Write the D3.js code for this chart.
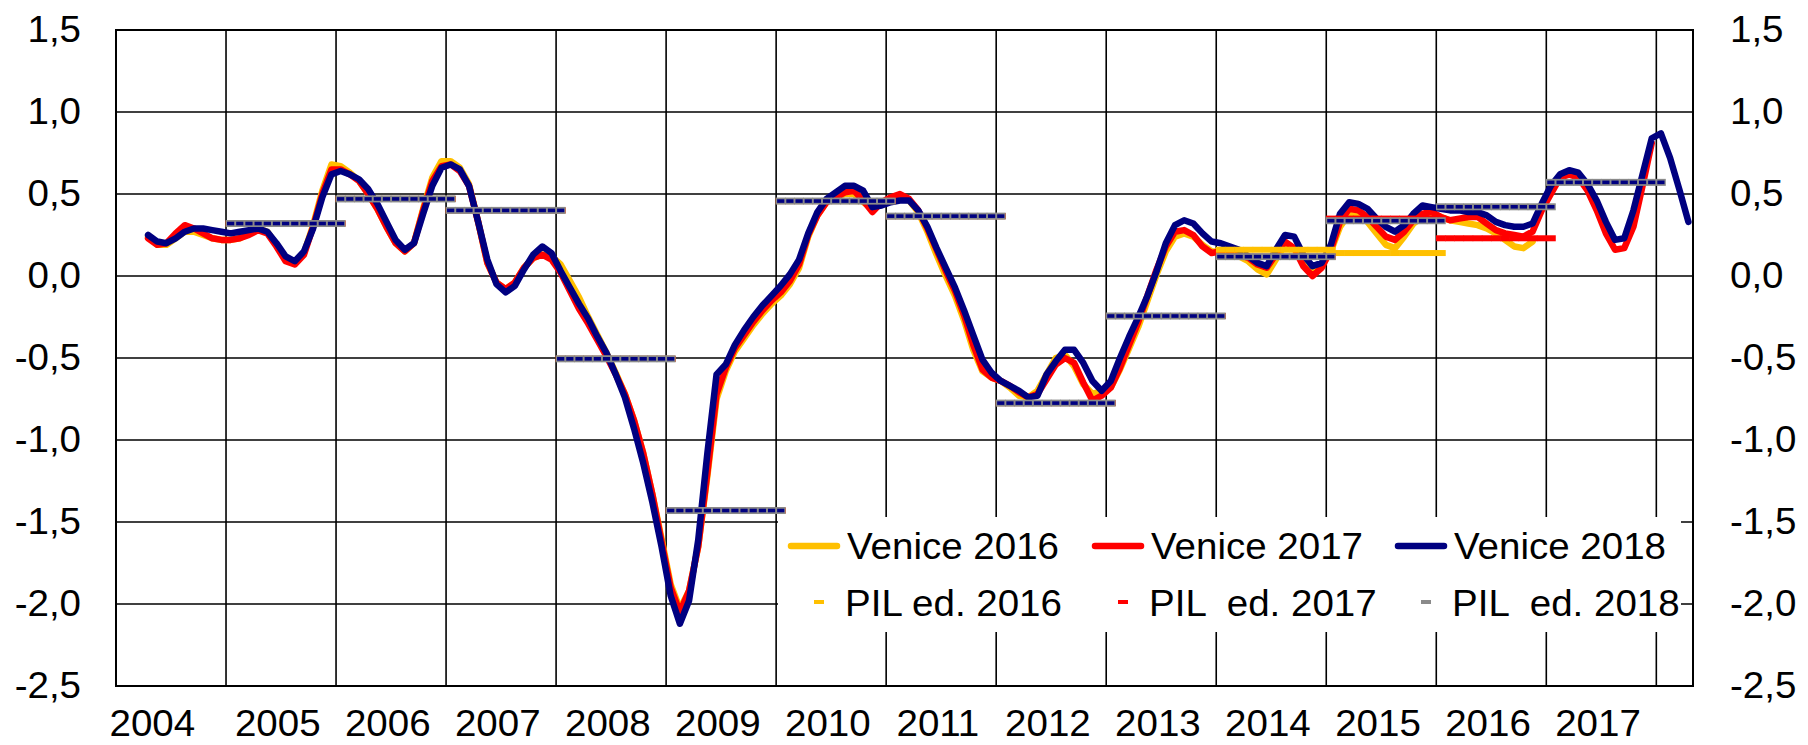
<!DOCTYPE html>
<html>
<head>
<meta charset="utf-8">
<style>
    body { margin:0; background:#fff; }
    svg text {
        font-family: "Liberation Sans", Arial, sans-serif;
        font-size: 36px;
        fill: #000;
        white-space: pre;
    }
    .grid line { stroke:#000; stroke-width:1.6px; }
    .frame { fill:none; stroke:#000; stroke-width:2px; }
    path.venice { fill:none; stroke-width:6.5px; stroke-linejoin:round; stroke-linecap:round; }
</style>
<script src="https://d3js.org/d3.v7.min.js"></script>
</head>
<body>
<script>
// monthly series, first value = April 2004
const firstYear = 2004, firstMonth = 3;

const venice2018 = [
    0.25, 0.21, 0.20, 0.23, 0.27, 0.29, 0.29, 0.28, 0.27,
    0.26, 0.27, 0.28, 0.29, 0.27, 0.20, 0.12, 0.09, 0.15, 0.29, 0.48, 0.62,
    0.64, 0.62, 0.59, 0.53, 0.44, 0.33, 0.22, 0.16, 0.20, 0.38, 0.55, 0.66,
    0.68, 0.65, 0.55, 0.33, 0.10, -0.05, -0.10, -0.06, 0.04, 0.13, 0.18, 0.14,
    0.03, -0.07, -0.17, -0.26, -0.37, -0.47, -0.60, -0.74, -0.93, -1.14, -1.38, -1.65,
    -1.95, -2.12, -1.98, -1.61, -1.08, -0.60, -0.54, -0.42, -0.33, -0.25, -0.18, -0.12,
    -0.06, 0.01, 0.10, 0.26, 0.39, 0.47, 0.51, 0.55, 0.55, 0.52, 0.42, 0.43,
    0.45, 0.46, 0.46, 0.40, 0.30, 0.17, 0.05, -0.07, -0.21, -0.36, -0.51, -0.59,
    -0.64, -0.67, -0.70, -0.74, -0.73, -0.60, -0.52, -0.45, -0.45, -0.53, -0.64, -0.70,
    -0.64, -0.50, -0.37, -0.25, -0.12, 0.03, 0.20, 0.31, 0.34, 0.32, 0.26, 0.21,
    0.20, 0.18, 0.16, 0.12, 0.08, 0.06, 0.16, 0.25, 0.24, 0.13, 0.06, 0.08,
    0.19, 0.38, 0.45, 0.44, 0.41, 0.35, 0.30, 0.27, 0.31, 0.38, 0.43, 0.42,
    0.41, 0.40, 0.40, 0.39, 0.39, 0.37, 0.33, 0.31, 0.30, 0.30, 0.32, 0.44,
    0.55, 0.62, 0.645, 0.63, 0.56, 0.46, 0.33, 0.22, 0.23, 0.40, 0.62, 0.84,
    0.87, 0.72, 0.53, 0.33
];

const venice2017 = [
    0.23, 0.19, 0.20, 0.26, 0.31, 0.29, 0.26, 0.23, 0.22,
    0.22, 0.23, 0.25, 0.28, 0.26, 0.18, 0.09, 0.07, 0.13, 0.30, 0.50, 0.65,
    0.65, 0.62, 0.58, 0.50, 0.41, 0.30, 0.20, 0.15, 0.20, 0.40, 0.58, 0.67,
    0.68, 0.64, 0.55, 0.33, 0.08, -0.04, -0.08, -0.04, 0.05, 0.11, 0.13, 0.10,
    0.02, -0.09, -0.20, -0.29, -0.39, -0.49, -0.60, -0.72, -0.88, -1.08, -1.33, -1.62,
    -1.90, -2.05, -1.92, -1.65, -1.20, -0.72, -0.56, -0.44, -0.36, -0.28, -0.21, -0.15,
    -0.10, -0.03, 0.07, 0.25, 0.37, 0.45, 0.48, 0.51, 0.52, 0.46, 0.39, 0.45,
    0.48, 0.50, 0.47, 0.40, 0.29, 0.16, 0.03, -0.09, -0.24, -0.42, -0.57, -0.62,
    -0.64, -0.67, -0.71, -0.74, -0.72, -0.63, -0.54, -0.50, -0.53, -0.65, -0.76, -0.73,
    -0.68, -0.56, -0.42, -0.28, -0.12, 0.04, 0.18, 0.27, 0.28, 0.25, 0.18, 0.14,
    0.15, 0.14, 0.13, 0.11, 0.07, 0.05, 0.13, 0.21, 0.17, 0.06, 0.00, 0.05,
    0.16, 0.33, 0.41, 0.40, 0.36, 0.30, 0.24, 0.22, 0.27, 0.34, 0.38, 0.39,
    0.36, 0.34, 0.35, 0.36, 0.36, 0.32, 0.28, 0.26, 0.25, 0.24, 0.27, 0.40,
    0.50, 0.60, 0.62, 0.60, 0.52, 0.40, 0.26, 0.16, 0.17, 0.30, 0.55, 0.81
];

const venice2016 = [
    0.24, 0.19, 0.19, 0.23, 0.27, 0.27, 0.25, 0.23, 0.22,
    0.22, 0.23, 0.26, 0.29, 0.27, 0.19, 0.10, 0.08, 0.14, 0.31, 0.52, 0.68,
    0.67, 0.63, 0.58, 0.50, 0.41, 0.30, 0.20, 0.15, 0.20, 0.41, 0.60, 0.70,
    0.70, 0.66, 0.56, 0.33, 0.08, -0.04, -0.08, -0.04, 0.05, 0.11, 0.13, 0.12,
    0.07, -0.03, -0.13, -0.25, -0.36, -0.47, -0.59, -0.72, -0.88, -1.08, -1.33, -1.60,
    -1.88, -2.03, -1.92, -1.65, -1.22, -0.75, -0.58, -0.46, -0.38, -0.30, -0.23, -0.17,
    -0.12, -0.05, 0.05, 0.24, 0.37, 0.45, 0.48, 0.50, 0.50, 0.45, 0.41, 0.44,
    0.46, 0.47, 0.46, 0.39, 0.27, 0.13, 0.00, -0.12, -0.27, -0.45, -0.58, -0.62,
    -0.64, -0.68, -0.73, -0.74, -0.70, -0.60, -0.50, -0.48, -0.55, -0.66, -0.72, -0.70,
    -0.68, -0.57, -0.44, -0.31, -0.15, 0.01, 0.15, 0.24, 0.26, 0.24, 0.19, 0.15,
    0.15, 0.14, 0.12, 0.09, 0.04, 0.01, 0.10, 0.19, 0.17, 0.08, 0.03, 0.06,
    0.15, 0.30, 0.38, 0.37, 0.33, 0.26, 0.19, 0.17, 0.24, 0.32, 0.36, 0.36,
    0.36, 0.34, 0.33, 0.32, 0.31, 0.29, 0.26, 0.22, 0.18, 0.17, 0.21
];

// annual GDP growth (PIL), one value per year
const pilYears = [2005, 2006, 2007, 2008, 2009, 2010, 2011, 2012, 2013, 2014, 2015, 2016, 2017];
const pil2018 = [0.32, 0.47, 0.40, -0.505, -1.43, 0.457, 0.365, -0.775, -0.244, 0.118, 0.337, 0.422, 0.571];
const pil2017 = [0.32, 0.47, 0.40, -0.505, -1.43, 0.457, 0.365, -0.775, -0.244, 0.118, 0.35, 0.23];
const pil2016 = [0.32, 0.47, 0.40, -0.505, -1.43, 0.457, 0.365, -0.775, -0.244, 0.16, 0.14];

const yTicks = [1.5, 1.0, 0.5, 0.0, -0.5, -1.0, -1.5, -2.0, -2.5];
const yearLabels = [2004, 2005, 2006, 2007, 2008, 2009, 2010, 2011, 2012, 2013, 2014, 2015, 2016, 2017];
const yearGrid = [2005, 2006, 2007, 2008, 2009, 2010, 2011, 2012, 2013, 2014, 2015, 2016, 2017, 2018];

const ORANGE = "#FFC000", RED = "#FF0000", NAVY = "#000080", GRAY = "#8a8a8a";

function draw() {
    const svg = d3.select("body").append("svg")
        .attr("width", 1808)
        .attr("height", 745);

    const x = d3.scaleLinear().domain([2004, 2018 + 4 / 12]).range([116, 1693]);
    const y = d3.scaleLinear().domain([-2.5, 1.5]).range([686, 30]);
    const monthT = i => firstYear + (firstMonth + i + 0.5) / 12;
    const monthW = x(2004 + 1 / 12) - x(2004);

    function label(g, px, py, txt, anchor) {
        g.append("text")
            .attr("transform", "translate(" + px + "," + py + ") scale(1.07,1)")
            .attr("text-anchor", anchor)
            .text(txt);
    }

    // grid
    const grid = svg.append("g").attr("class", "grid");
    grid.selectAll("line.h")
        .data(yTicks)
        .join("line")
        .attr("class", "h")
        .attr("x1", x.range()[0]).attr("x2", x.range()[1])
        .attr("y1", d => y(d)).attr("y2", d => y(d));
    grid.selectAll("line.v")
        .data(yearGrid)
        .join("line")
        .attr("class", "v")
        .attr("x1", d => x(d)).attr("x2", d => x(d))
        .attr("y1", y.range()[1]).attr("y2", y.range()[0]);

    svg.append("rect")
        .attr("class", "frame")
        .attr("x", x.range()[0]).attr("y", y.range()[1])
        .attr("width", x.range()[1] - x.range()[0])
        .attr("height", y.range()[0] - y.range()[1]);

    // tick labels
    const fmt = v => v.toFixed(1).replace(".", ",");
    const labels = svg.append("g");
    yTicks.forEach(v => {
        label(labels, 81, y(v) + 12, fmt(v), "end");
        label(labels, 1730, y(v) + 12, fmt(v), "start");
    });
    yearLabels.forEach((yr, i) => {
        const t = i === 0 ? yr + 0.33 : yr + 0.47;
        label(labels, x(t), 736, String(yr), "middle");
    });

    // Venice lines
    const line = d3.line()
        .x((d, i) => x(monthT(i)))
        .y(d => y(d));
    [[venice2016, ORANGE], [venice2017, RED], [venice2018, NAVY]].forEach(([data, col]) => {
        svg.append("path")
            .attr("class", "venice")
            .attr("d", line(data))
            .attr("stroke", col);
    });

    // PIL: dash markers on every month of the year (plus January of the next)
    function pilMarks(values, col, h) {
        const pts = [];
        values.forEach((v, i) => {
            for (let m = 0; m <= 12; m++) pts.push({ t: pilYears[i] + (m + 0.5) / 12, v: v });
        });
        svg.append("g").selectAll("rect")
            .data(pts)
            .join("rect")
            .attr("x", d => x(d.t) - monthW / 2 - 0.3)
            .attr("y", d => y(d.v) - h / 2)
            .attr("width", monthW + 0.6)
            .attr("height", h)
            .attr("fill", col);
        return pts;
    }
    pilMarks(pil2016, ORANGE, 6);
    pilMarks(pil2017, RED, 6);
    const pts18 = pilMarks(pil2018, GRAY, 7);
    svg.append("g").selectAll("rect")
        .data(pts18)
        .join("rect")
        .attr("x", d => x(d.t) - 3.6)
        .attr("y", d => y(d.v) - 1.8)
        .attr("width", 7.2)
        .attr("height", 3.6)
        .attr("fill", NAVY);

    // legend
    const leg = svg.append("g");
    leg.append("rect")
        .attr("x", 778).attr("y", 517)
        .attr("width", 903).attr("height", 115)
        .attr("fill", "#fff");
    const cols = [788, 1092, 1395];
    const lineItems = [["Venice 2016", ORANGE], ["Venice 2017", RED], ["Venice 2018", NAVY]];
    const pilItems = [["PIL ed. 2016", ORANGE], ["PIL  ed. 2017", RED], ["PIL  ed. 2018", GRAY]];
    lineItems.forEach(([name, col], i) => {
        leg.append("line")
            .attr("x1", cols[i] + 3).attr("x2", cols[i] + 49)
            .attr("y1", 546).attr("y2", 546)
            .attr("stroke", col).attr("stroke-width", 6.5)
            .attr("stroke-linecap", "round");
        label(leg, cols[i] + 59, 559, name, "start");
    });
    pilItems.forEach(([name, col], i) => {
        leg.append("rect")
            .attr("x", cols[i] + 26).attr("y", 600)
            .attr("width", 10).attr("height", 4)
            .attr("fill", col);
        label(leg, cols[i] + 57, 616, name, "start");
    });
}
draw();
</script>
</body>
</html>
